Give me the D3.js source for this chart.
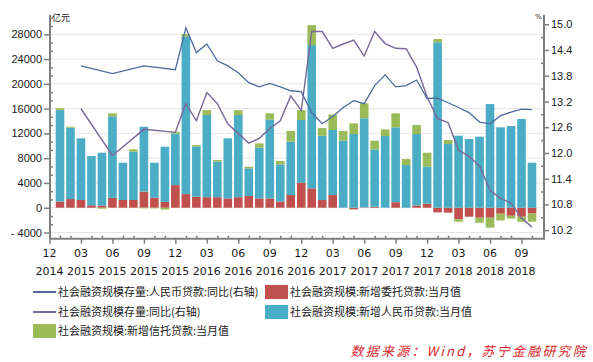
<!DOCTYPE html>
<html>
<head>
<meta charset="utf-8">
<script src="https://cdn.jsdelivr.net/npm/d3@7"></script>
<style>
  body { margin: 0; background: #fff; }
  svg { display: block; font-family: "DejaVu Sans", Verdana, sans-serif; }
  .cjk { font-family: "Noto Sans CJK SC", "Noto Sans", sans-serif; }
</style>
</head>
<body>
<svg id="chart"></svg>
<script>
const width = 593, height = 362;

// months 2014-12 .. 2018-10
const months = [];
for (let y = 2014, m = 12; y < 2018 || m <= 10; ) {
    months.push(`${y}-${String(m).padStart(2, "0")}`);
    m++; if (m > 12) { m = 1; y++; }
}

// 社会融资规模:新增委托贷款:当月值 (亿元)
const entrusted = [null,
    1000, 1400, 1250, 400, 350, 1600, 1250, 1250, 2600, 1600, 950, 3650,
    2200, 1780, 1700, 1700, 1500, 1700, 1900, 1500, 1500, 1000, 2050, 4040,
    3130, 1240, 2050, 0, -270, 50, 150, 0, 900, 0, 370, 650,
    -750, -800, -1880, -1450, -1610, -1610, -970, -1300, -1450, -940];
// 社会融资规模:新增人民币贷款:当月值
const rmbLoans = [null,
    14750, 11530, 9950, 7950, 8530, 13140, 6020, 7800, 10480, 5670, 8900, 8320,
    25400, 8100, 13260, 5750, 9700, 13260, 4450, 8190, 12740, 5990, 8640, 10120,
    23120, 10370, 10500, 10820, 11900, 14390, 9270, 11570, 12080, 6890, 11530, 5970,
    26700, 10280, 11630, 11090, 11470, 16730, 12980, 13190, 14320, 7270];
// 社会融资规模:新增信托贷款:当月值
const trustLoans = [null,
    300, 150, 0, 0, -150, 500, 0, 380, -100, -100, -300, 300,
    450, 240, 800, 250, 0, 800, 270, 700, 1000, 550, 1700, 1600,
    3230, 1240, 2500, 1560, 1720, 2420, 1400, 1080, 2260, 970, 1450, 2260,
    530, 650, -380, 0, -810, -1610, -1080, -450, -810, -1300];

// 社会融资规模存量:人民币贷款:同比 (%), quarterly in 2015
const loanStockYoY = [null,
    null, null, 14.03, null, null, 13.85, null, null, 14.03, null, null, 13.94,
    14.92, 14.34, 14.54, 14.15, 14.03, 13.87, 13.64, 13.54, 13.62, 13.54, 13.45, 13.43,
    12.94, 12.68, 12.85, 13.06, 13.22, 13.15, 13.57, 13.82, 13.54, 13.57, 13.70, 13.27,
    13.28, 13.17, 13.06, 12.94, 12.72, 12.68, 12.87, 12.95, 13.02, 13.01];
// 社会融资规模存量:同比 (%)
const tsfStockYoY = [null,
    null, null, 13.03, null, null, 11.94, null, null, 12.55, null, null, 12.48,
    13.15, 12.75, 13.41, 13.15, 12.68, 12.45, 12.23, 12.34, 12.57, 12.75, 13.33, 12.99,
    14.83, 14.83, 14.44, 14.54, 14.63, 14.26, 14.83, 14.55, 14.44, 14.43, 14.00, 13.31,
    12.80, 12.71, 12.06, 11.92, 11.69, 11.13, 10.94, 10.83, 10.48, 10.27];

const leftTicks = d3.range(-4000, 28001, 4000);
const rightTicks = d3.range(0, 9).map(i => +(10.2 + i * 0.6).toFixed(1));

const colors = {
    entrusted: "#c0504d",
    rmb: "#4bacc6",
    trust: "#9bbb59",
    loanLine: "#4f6c9c",
    tsfLine: "#7a6899",
    axis: "#7f7f7f",
    grid: "#e7e7e7",
    text: "#1a1a1a"
};

const plot = { left: 50, right: 544, top: 15.7, bottom: 238.7 };

const svg = d3.select("#chart")
    .attr("width", width)
    .attr("height", height)
    .attr("viewBox", [0, 0, width, height]);

const x = d3.scalePoint().domain(months).range([49.5, 532]);
const yL = d3.scaleLinear().domain([-5000, 31000]).range([plot.bottom, plot.top]);
const yR = d3.scaleLinear().domain([10.0, 15.2]).range([plot.bottom, plot.top]);
const barWidth = x.step() * 0.82;

// gridlines
svg.append("g")
    .selectAll("line")
    .data(leftTicks)
    .join("line")
    .attr("x1", plot.left)
    .attr("x2", plot.right)
    .attr("y1", d => yL(d))
    .attr("y2", d => yL(d))
    .attr("stroke", colors.grid)
    .attr("stroke-width", 1);

// stacked bars
const rows = months.map((m, i) => ({
    month: m,
    entrusted: entrusted[i],
    rmb: rmbLoans[i],
    trust: trustLoans[i]
})).filter(d => d.rmb != null);

const keys = ["entrusted", "rmb", "trust"];
const series = d3.stack()
    .keys(keys)
    .offset(d3.stackOffsetDiverging)(rows);

svg.append("g")
    .selectAll("g")
    .data(series)
    .join("g")
    .attr("fill", s => colors[s.key])
    .selectAll("rect")
    .data(s => s)
    .join("rect")
    .attr("x", d => x(d.data.month) - barWidth / 2)
    .attr("width", barWidth)
    .attr("y", d => yL(Math.max(d[0], d[1])))
    .attr("height", d => Math.abs(yL(d[0]) - yL(d[1])));

// lines on right axis
const lineGen = d3.line()
    .defined(d => d.v != null)
    .x(d => x(d.month))
    .y(d => yR(d.v));

function lineData(arr) {
    return months.map((m, i) => ({ month: m, v: arr[i] })).filter(d => d.v != null);
}

svg.append("path")
    .attr("d", lineGen(lineData(tsfStockYoY)))
    .attr("fill", "none")
    .attr("stroke", colors.tsfLine)
    .attr("stroke-width", 1.4);

svg.append("path")
    .attr("d", lineGen(lineData(loanStockYoY)))
    .attr("fill", "none")
    .attr("stroke", colors.loanLine)
    .attr("stroke-width", 1.3);

// axes
function styleAxis(g) {
    g.select(".domain").remove();
    g.selectAll(".tick line").attr("stroke", colors.axis).attr("stroke-width", 1.5);
    g.selectAll("text").attr("fill", colors.text).style("font-size", "11px");
}

const minorLeft = d3.range(-4000 - 4000 / 3 * 0, 31000, 4000 / 3)
    .concat([-4000 - 4000 / 3])
    .filter(v => v >= -5000 && v <= 31000 && Math.abs(v / 4000 - Math.round(v / 4000)) > 0.01);

svg.append("g")
    .attr("transform", `translate(${plot.left},0)`)
    .call(d3.axisLeft(yL).tickValues(leftTicks).tickSize(6).tickPadding(2)
        .tickFormat(d => d < 0 ? "- " + Math.abs(d) : d))
    .call(styleAxis);

svg.append("g")
    .attr("transform", `translate(${plot.left},0)`)
    .call(d3.axisLeft(yL).tickValues(minorLeft).tickSize(-3).tickFormat(""))
    .call(styleAxis);

const minorRight = d3.range(10.5, 15.2, 0.6);

svg.append("g")
    .attr("transform", `translate(${plot.right},0)`)
    .call(d3.axisRight(yR).tickValues(rightTicks).tickSize(5).tickPadding(2)
        .tickFormat(d3.format(".1f")))
    .call(styleAxis);

svg.append("g")
    .attr("transform", `translate(${plot.right},0)`)
    .call(d3.axisRight(yR).tickValues(minorRight).tickSize(-3).tickFormat(""))
    .call(styleAxis);

const majorMonths = months.filter((m, i) => i % 3 === 0);
const minorMonths = months.filter((m, i) => i % 3 !== 0);

svg.append("g")
    .attr("transform", `translate(0,${plot.bottom})`)
    .call(d3.axisBottom(x).tickValues(majorMonths).tickSize(5).tickFormat(""))
    .call(styleAxis);

svg.append("g")
    .attr("transform", `translate(0,${plot.bottom})`)
    .call(d3.axisBottom(x).tickValues(minorMonths).tickSize(-3).tickFormat(""))
    .call(styleAxis);

// axis lines
const axisLines = svg.append("g")
    .attr("stroke", colors.axis)
    .attr("stroke-width", 2);
axisLines.append("line")
    .attr("x1", plot.left).attr("x2", plot.left)
    .attr("y1", plot.top - 1).attr("y2", plot.bottom + 1);
axisLines.append("line")
    .attr("x1", plot.right).attr("x2", plot.right)
    .attr("y1", plot.top - 1).attr("y2", plot.bottom + 1);
axisLines.append("line")
    .attr("x1", plot.left).attr("x2", plot.right)
    .attr("y1", plot.bottom).attr("y2", plot.bottom);

// two-line x labels
const xLabels = svg.append("g")
    .attr("fill", colors.text)
    .style("font-size", "11px")
    .attr("text-anchor", "middle");
xLabels.selectAll("text.mon")
    .data(majorMonths)
    .join("text")
    .attr("class", "mon")
    .attr("x", d => x(d))
    .attr("y", 257)
    .text(d => d.slice(5));
xLabels.selectAll("text.yr")
    .data(majorMonths)
    .join("text")
    .attr("class", "yr")
    .attr("x", d => x(d))
    .attr("y", 274.5)
    .text(d => d.slice(0, 4));

// unit labels
svg.append("text")
    .attr("class", "cjk")
    .attr("x", 52)
    .attr("y", 21)
    .attr("fill", colors.text)
    .style("font-size", "9px")
    .text("亿元");
svg.append("text")
    .attr("x", 535)
    .attr("y", 19)
    .attr("fill", colors.text)
    .style("font-size", "7px")
    .text("%");

// legend
const legendItems = [
    { label: "社会融资规模存量:人民币贷款:同比(右轴)", type: "line", color: colors.loanLine, col: 0, row: 0 },
    { label: "社会融资规模:新增委托贷款:当月值", type: "rect", color: colors.entrusted, col: 1, row: 0 },
    { label: "社会融资规模存量:同比(右轴)", type: "line", color: colors.tsfLine, col: 0, row: 1 },
    { label: "社会融资规模:新增人民币贷款:当月值", type: "rect", color: colors.rmb, col: 1, row: 1 },
    { label: "社会融资规模:新增信托贷款:当月值", type: "rect", color: colors.trust, col: 0, row: 2 }
];
const legendX = [33, 265], legendY = [292, 312, 331];

const legend = svg.append("g").attr("class", "cjk");
const li = legend.selectAll("g")
    .data(legendItems)
    .join("g")
    .attr("transform", d => `translate(${legendX[d.col]},${legendY[d.row]})`);
li.filter(d => d.type === "line").append("line")
    .attr("x1", 0).attr("x2", 23)
    .attr("stroke", d => d.color)
    .attr("stroke-width", 2);
li.filter(d => d.type === "rect").append("rect")
    .attr("x", 0).attr("y", -7)
    .attr("width", 23).attr("height", 14)
    .attr("fill", d => d.color);
li.append("text")
    .attr("x", 25)
    .attr("y", 4)
    .attr("fill", colors.text)
    .style("font-size", "11px")
    .text(d => d.label);

svg.append("text")
    .attr("class", "cjk")
    .attr("x", 588)
    .attr("y", 356)
    .attr("text-anchor", "end")
    .attr("fill", "#d9262b")
    .style("font-size", "13px")
    .style("font-style", "italic")
    .style("letter-spacing", "2.2px")
    .text("数据来源：Wind，苏宁金融研究院");
</script>
</body>
</html>
